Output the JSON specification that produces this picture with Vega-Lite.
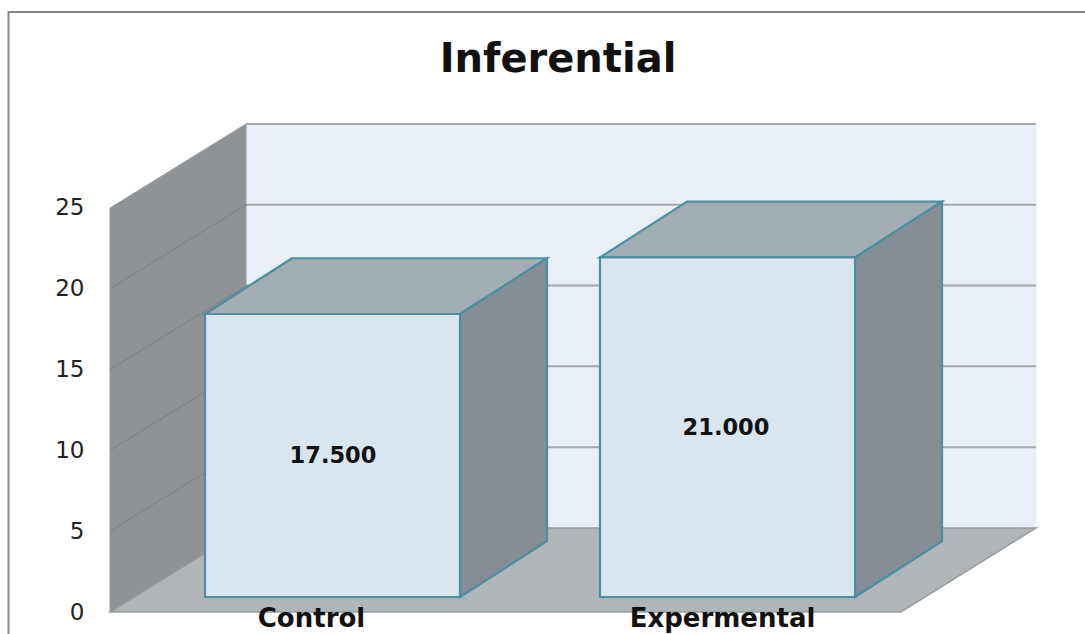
{
"$schema":"https://vega.github.io/schema/vega-lite/v6.json",
"width":1085,"height":634,"autosize":{"type":"none"},"padding":0,"background":"white",
"config":{"view":{"stroke":null}},
"datasets":{
"frame":[{"pos":1085,"v":37.13},{"pos":8.5,"v":37.13},{"pos":8.5,"v":-1.36}],
"heading":[{"label":"Inferential","pos":558,"v":34.16}],
"leftWall":[{"pos":110,"low":0,"high":25},{"pos":246,"low":5.2,"high":30.2}],
"backWall":[{"pos":246,"low":5.2,"high":30.2},{"pos":1036,"low":5.2,"high":30.2}],
"floor":[{"v":0,"left":110,"right":901},{"v":5.2,"left":246,"right":1036}],
"leftGrid":[{"level":5,"pos":110,"v":5},{"level":5,"pos":246,"v":10.2},{"level":10,"pos":110,"v":10},{"level":10,"pos":246,"v":15.2},{"level":15,"pos":110,"v":15},{"level":15,"pos":246,"v":20.2},{"level":20,"pos":110,"v":20},{"level":20,"pos":246,"v":25.2}],
"backGrid":[{"level":5,"pos":246,"v":10.2},{"level":5,"pos":1036,"v":10.2},{"level":10,"pos":246,"v":15.2},{"level":10,"pos":1036,"v":15.2},{"level":15,"pos":246,"v":20.2},{"level":15,"pos":1036,"v":20.2},{"level":20,"pos":246,"v":25.2},{"level":20,"pos":1036,"v":25.2},{"level":25,"pos":246,"v":30.2},{"level":25,"pos":1036,"v":30.2}],
"names":[{"category":"Control","pos":311.5,"v":-0.46},{"category":"Expermental","pos":722.5,"v":-0.46}],
"bars":[{"category":"Control","value":17.5,"mid":8.75,"left":205,"right":460,"center":333},{"category":"Expermental","value":21,"mid":10.45,"left":600,"right":855,"center":726}],
"sides":[{"category":"Control","pos":460,"low":0,"high":17.5},{"category":"Control","pos":547,"low":3.45,"high":20.95},{"category":"Expermental","pos":855,"low":0,"high":21},{"category":"Expermental","pos":942,"low":3.45,"high":24.45}],
"tops":[{"category":"Control","v":17.5,"left":205,"right":460},{"category":"Control","v":20.95,"left":292,"right":547},{"category":"Expermental","v":21,"left":600,"right":855},{"category":"Expermental","v":24.45,"left":687,"right":942}]
},
"resolve":{"scale":{"y":"independent"},"axis":{"y":"independent"}},
"layer":[
{"encoding":{},
 "layer":[
 {"data":{"name":"backWall"},"mark":{"type":"area","orient":"vertical","fill":"#e8eff6","stroke":"#e8eff6","strokeWidth":1},
  "encoding":{"x":{"field":"pos","type":"quantitative","scale":{"domain":[0,1085],"nice":false},"axis":null},
   "y":{"field":"low","type":"quantitative","scale":{"domain":[-1.361,37.871],"nice":false,"zero":false},
    "axis":{"values":[0,5,10,15,20,25],"offset":-84,"labelPadding":0,"ticks":false,"domain":false,"grid":false,"title":null,"labelFont":"DejaVu Sans","labelFontSize":23,"labelColor":"#222222","labelBaseline":"middle"}},
   "y2":{"field":"high"}}},
 {"data":{"name":"backGrid"},"mark":{"type":"line","color":"#a6a8aa","strokeWidth":2},
  "encoding":{"x":{"field":"pos","type":"quantitative"},"y":{"field":"v","type":"quantitative"},"detail":{"field":"level"}}},
 {"data":{"name":"floor"},"mark":{"type":"area","orient":"horizontal","fill":"#b0b5b8","stroke":"#9a9c9e","strokeWidth":1.5},
  "encoding":{"y":{"field":"v","type":"quantitative"},"x":{"field":"left","type":"quantitative"},"x2":{"field":"right"}}},
 {"data":{"name":"leftWall"},"mark":{"type":"area","orient":"vertical","fill":"#909396","stroke":"#9a9c9e","strokeWidth":1},
  "encoding":{"x":{"field":"pos","type":"quantitative"},"y":{"field":"low","type":"quantitative"},"y2":{"field":"high"}}},
 {"data":{"name":"leftGrid"},"mark":{"type":"line","color":"#7e8083","strokeWidth":1},
  "encoding":{"x":{"field":"pos","type":"quantitative"},"y":{"field":"v","type":"quantitative"},"detail":{"field":"level"}}},
 {"data":{"name":"frame"},"mark":{"type":"line","color":"#868686","strokeWidth":2},
  "encoding":{"x":{"field":"pos","type":"quantitative","sort":null},"y":{"field":"v","type":"quantitative"},"order":{"field":"v","sort":"descending"}}},
 {"data":{"name":"heading"},"mark":{"type":"text","font":"DejaVu Sans","fontWeight":"bold","fontSize":40,"color":"#111111","baseline":"middle","align":"center"},
  "encoding":{"x":{"field":"pos","type":"quantitative"},"y":{"field":"v","type":"quantitative"},"text":{"field":"label"}}},
 {"data":{"name":"names"},"mark":{"type":"text","font":"DejaVu Sans","fontWeight":"bold","fontSize":26,"color":"#111111","baseline":"middle","align":"center"},
  "encoding":{"x":{"field":"pos","type":"quantitative"},"y":{"field":"v","type":"quantitative"},"text":{"field":"category"}}}
 ]},
{"encoding":{},
 "layer":[
 {"data":{"name":"tops"},"mark":{"type":"area","orient":"horizontal","fill":"#a2aeb4","stroke":"#4a8fa2","strokeWidth":2.2},
  "encoding":{"y":{"field":"v","type":"quantitative","scale":{"domain":[-2.288,36.92],"nice":false,"zero":false},"axis":null},"x":{"field":"left","type":"quantitative"},"x2":{"field":"right"},"detail":{"field":"category"}}},
 {"data":{"name":"sides"},"mark":{"type":"area","orient":"vertical","fill":"#858e94","stroke":"#4a8fa2","strokeWidth":2.2},
  "encoding":{"x":{"field":"pos","type":"quantitative"},"y":{"field":"low","type":"quantitative"},"y2":{"field":"high"},"detail":{"field":"category"}}},
 {"data":{"name":"bars"},"mark":{"type":"rect","fill":"#d9e6ee","stroke":"#4a8fa2","strokeWidth":2.2},
  "encoding":{"x":{"field":"left","type":"quantitative"},"x2":{"field":"right"},"y":{"field":"value","type":"quantitative"},"y2":{"datum":0}}},
 {"data":{"name":"bars"},"mark":{"type":"text","font":"DejaVu Sans","fontWeight":"bold","fontSize":22.5,"color":"#111111","baseline":"middle","align":"center"},
  "encoding":{"x":{"field":"center","type":"quantitative"},"y":{"field":"mid","type":"quantitative"},"text":{"field":"value","type":"quantitative","format":".3f"}}}
 ]}
]
}
